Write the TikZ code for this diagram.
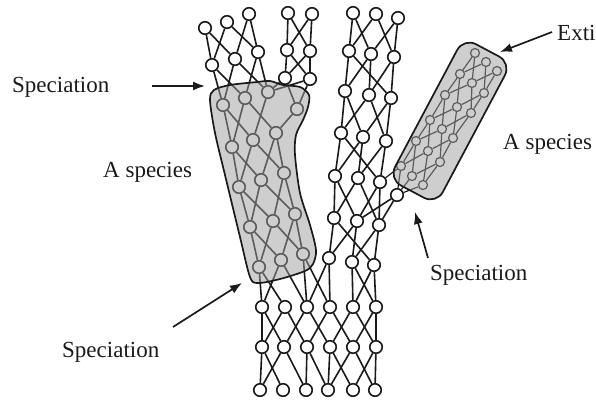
\documentclass[tikz,border=0pt]{standalone}
\usepackage{fontspec}
\setmainfont{Liberation Serif}
\usetikzlibrary{arrows.meta, positioning}
\definecolor{inkcolor}{HTML}{1A1A1A}
\definecolor{blobfill}{HTML}{9E9E9E}

\begin{document}
\begin{tikzpicture}[x=1pt, y=-1pt, every node/.style={font=\fontsize{23}{26}\selectfont}]

\tikzset{
  indiv/.style={circle, draw=inkcolor, fill=white, line width=1.6pt,
    minimum size=12.5pt, inner sep=0pt},
  kid/.style={indiv, minimum size=9pt, line width=1.2pt},
  link/.style={draw=inkcolor, line width=1.6pt},
  thinlink/.style={draw=inkcolor, line width=1.2pt},
  blob/.style={draw=inkcolor, line width=1.7pt, fill=blobfill, fill opacity=0.5},
  pointer/.style={-{Latex[length=12pt, width=9pt]}, inkcolor, line width=1.7pt},
  tag/.style={inner sep=0pt, text=inkcolor, anchor=base west},
}

\useasboundingbox (0,0) rectangle (596,400);

% ---- left lineage, above the split ----
\foreach \x/\y [count=\i] in {205/28, 227/22, 249/14} \node[indiv] (la-\i) at (\x,\y) {};
\foreach \x/\y [count=\i] in {212/65, 235/59, 258/52} \node[indiv] (lb-\i) at (\x,\y) {};
\foreach \x/\y [count=\i] in {288/13, 312/14} \node[indiv] (ma-\i) at (\x,\y) {};
\foreach \x/\y [count=\i] in {287/50, 310/51} \node[indiv] (mb-\i) at (\x,\y) {};
\foreach \x/\y [count=\i] in {285/78, 310/79} \node[indiv] (mc-\i) at (\x,\y) {};

% ---- left species ----
\foreach \x/\y [count=\i] in {223/105, 245/98, 268/92, 297/109} \node[indiv] (ga-\i) at (\x,\y) {};
\foreach \x/\y [count=\i] in {232/147, 253/140, 276/133} \node[indiv] (gb-\i) at (\x,\y) {};
\foreach \x/\y [count=\i] in {239/187, 261/180, 284/173} \node[indiv] (gc-\i) at (\x,\y) {};
\foreach \x/\y [count=\i] in {250/227, 273/221, 295/214} \node[indiv] (gd-\i) at (\x,\y) {};
\foreach \x/\y [count=\i] in {259/267, 281/260, 303/254} \node[indiv] (ge-\i) at (\x,\y) {};

% ---- middle lineage ----
\foreach \x/\y [count=\i] in {353/13, 376/14, 398/18} \node[indiv] (ca-\i) at (\x,\y) {};
\foreach \x/\y [count=\i] in {349/51, 371/54, 394/57} \node[indiv] (cb-\i) at (\x,\y) {};
\foreach \x/\y [count=\i] in {345/91, 369/95, 391/98} \node[indiv] (cc-\i) at (\x,\y) {};
\foreach \x/\y [count=\i] in {341/133, 363/137, 386/141} \node[indiv] (cd-\i) at (\x,\y) {};
\foreach \x/\y [count=\i] in {335/176, 358/178, 380/182} \node[indiv] (ce-\i) at (\x,\y) {};
\foreach \x/\y [count=\i] in {334/218, 357/221, 379/225} \node[indiv] (cf-\i) at (\x,\y) {};
\foreach \x/\y [count=\i] in {329/258, 352/262, 374/265} \node[indiv] (cg-\i) at (\x,\y) {};
\node[indiv] (fork) at (397,195) {};

% ---- trunk ----
\foreach \x [count=\i] in {262,285,307,330,353,376} \node[indiv] (ta-\i) at (\x,307) {};
\foreach \x [count=\i] in {262,284,307,330,353,376} \node[indiv] (tb-\i) at (\x,347) {};
\foreach \x [count=\i] in {260,283,306,328,353,375} \node[indiv] (tc-\i) at (\x,390) {};

% ---- right species ----
\foreach \x/\y [count=\i] in {401/166, 412/176, 423/185} \node[kid] (ra-\i) at (\x,\y) {};
\foreach \x/\y [count=\i] in {416/141, 428/151, 440/162} \node[kid] (rb-\i) at (\x,\y) {};
\foreach \x/\y [count=\i] in {430/120, 442/129, 453/138} \node[kid] (rc-\i) at (\x,\y) {};
\foreach \x/\y [count=\i] in {445/95, 457/107, 471/113} \node[kid] (rd-\i) at (\x,\y) {};
\foreach \x/\y [count=\i] in {460/74, 472/83, 484/93} \node[kid] (re-\i) at (\x,\y) {};
\foreach \x/\y [count=\i] in {475/53, 486/62, 497/71} \node[kid] (rf-\i) at (\x,\y) {};

% ---- parent links ----
\foreach \u/\l in {1/1,1/2,2/1,2/3,3/2,3/3} \draw[link] (la-\u) -- (lb-\l);
\foreach \u/\l in {1/1,1/2,2/1,2/2} {
  \draw[link] (ma-\u) -- (mb-\l);
  \draw[link] (mb-\u) -- (mc-\l);
}
\foreach \u/\l in {1/1,1/2,2/1,2/3,3/2,3/3} \draw[link] (lb-\u) -- (ga-\l);
\foreach \u/\l in {1/3,1/4,2/3,2/4} \draw[link] (mc-\u) -- (ga-\l);
\foreach \u/\l in {1/1,1/2,2/1,2/3,3/2,4/3} \draw[link] (ga-\u) -- (gb-\l);
\foreach \up/\lo in {gb/gc, gc/gd, gd/ge}
  \foreach \u/\l in {1/1,1/2,2/1,2/3,3/2,3/3} \draw[link] (\up-\u) -- (\lo-\l);
\foreach \up/\lo in {ca/cb, cc/cd, ce/cf}
  \foreach \u/\l in {1/1,1/2,2/1,2/3,3/2,3/3} \draw[link] (\up-\u) -- (\lo-\l);
\foreach \up/\lo in {cb/cc, cd/ce, cf/cg}
  \foreach \u/\l in {1/1,1/3,2/1,2/2,3/2,3/3} \draw[link] (\up-\u) -- (\lo-\l);
\draw[link] (ge-1) -- (ta-1);
\draw[link] (ge-1) -- (ta-2);
\draw[link] (ge-2) -- (ta-1);
\draw[link] (ge-2) -- (ta-3);
\draw[link] (ge-3) -- (ta-3);
\draw[link] (ge-3) -- (ta-4);
\draw[link] (cg-1) -- (ta-3);
\draw[link] (cg-1) -- (ta-4);
\draw[link] (cg-2) -- (ta-5);
\draw[link] (cg-2) -- (ta-6);
\draw[link] (cg-3) -- (ta-5);
\draw[link] (cg-3) -- (ta-6);
\foreach \u/\l in {1/1,1/2,2/1,2/3,3/2,3/4,4/3,4/5,5/4,5/6,6/5,6/6} \draw[link] (ta-\u) -- (tb-\l);
\foreach \u/\l in {1/1,1/2,2/1,2/3,3/3,3/4,4/4,4/5,5/4,5/6,6/5,6/6} \draw[link] (tb-\u) -- (tc-\l);
\draw[link] (fork) -- (cf-3);
\draw[link] (fork) -- (cf-2);
\foreach \up/\lo in {rb/ra, rc/rb, rd/rc, re/rd, rf/re}
  \foreach \u/\l in {1/1,1/2,2/1,2/3,3/2,3/3} \draw[thinlink] (\up-\u) -- (\lo-\l);
\draw[thinlink] (ra-1) -- (ce-3);
\draw[thinlink] (ra-1) -- (fork);
\draw[thinlink] (ra-2) -- (fork);
\draw[thinlink] (ra-3) -- (fork);

% ---- species outlines ----
\draw[blob] plot[smooth cycle, tension=0.5] coordinates {
  (210,100) (214,90) (230,85) (257,82) (270,81) (283,85) (300,87) (309,95)
  (308,107) (303,120) (296,135) (295,155) (300,193) (310,225) (316,250)
  (313,264) (305,271) (280,279) (258,283) (250,277) (240,237) (225,175) (215,133)};
\node[blob, rectangle, rounded corners=14pt, rotate=62, minimum width=160pt,
      minimum height=54pt] (rblob) at (450,121) {};

% ---- labels and pointers ----
\node[tag] (specl) at (12,92) {Speciation};
\node[tag] (spleft) at (103,177) {A species};
\node[tag] (specb) at (62,357) {Speciation};
\node[tag] (specr) at (430,280) {Speciation};
\node[tag] (extinct) at (557,40) {Exti};
\node[tag] (spright) at (503,149) {A species};

\coordinate (p1) at (152,86);  \coordinate (q1) at (205,86);
\coordinate (p2) at (173,327); \coordinate (q2) at (242,283);
\coordinate (p3) at (428,258); \coordinate (q3) at (415,212);
\coordinate (p4) at (552,32);  \coordinate (q4) at (500,52);
\draw[pointer] (p1) -- (q1);
\draw[pointer] (p2) -- (q2);
\draw[pointer] (p3) -- (q3);
\draw[pointer] (p4) -- (q4);

\end{tikzpicture}
\end{document}
